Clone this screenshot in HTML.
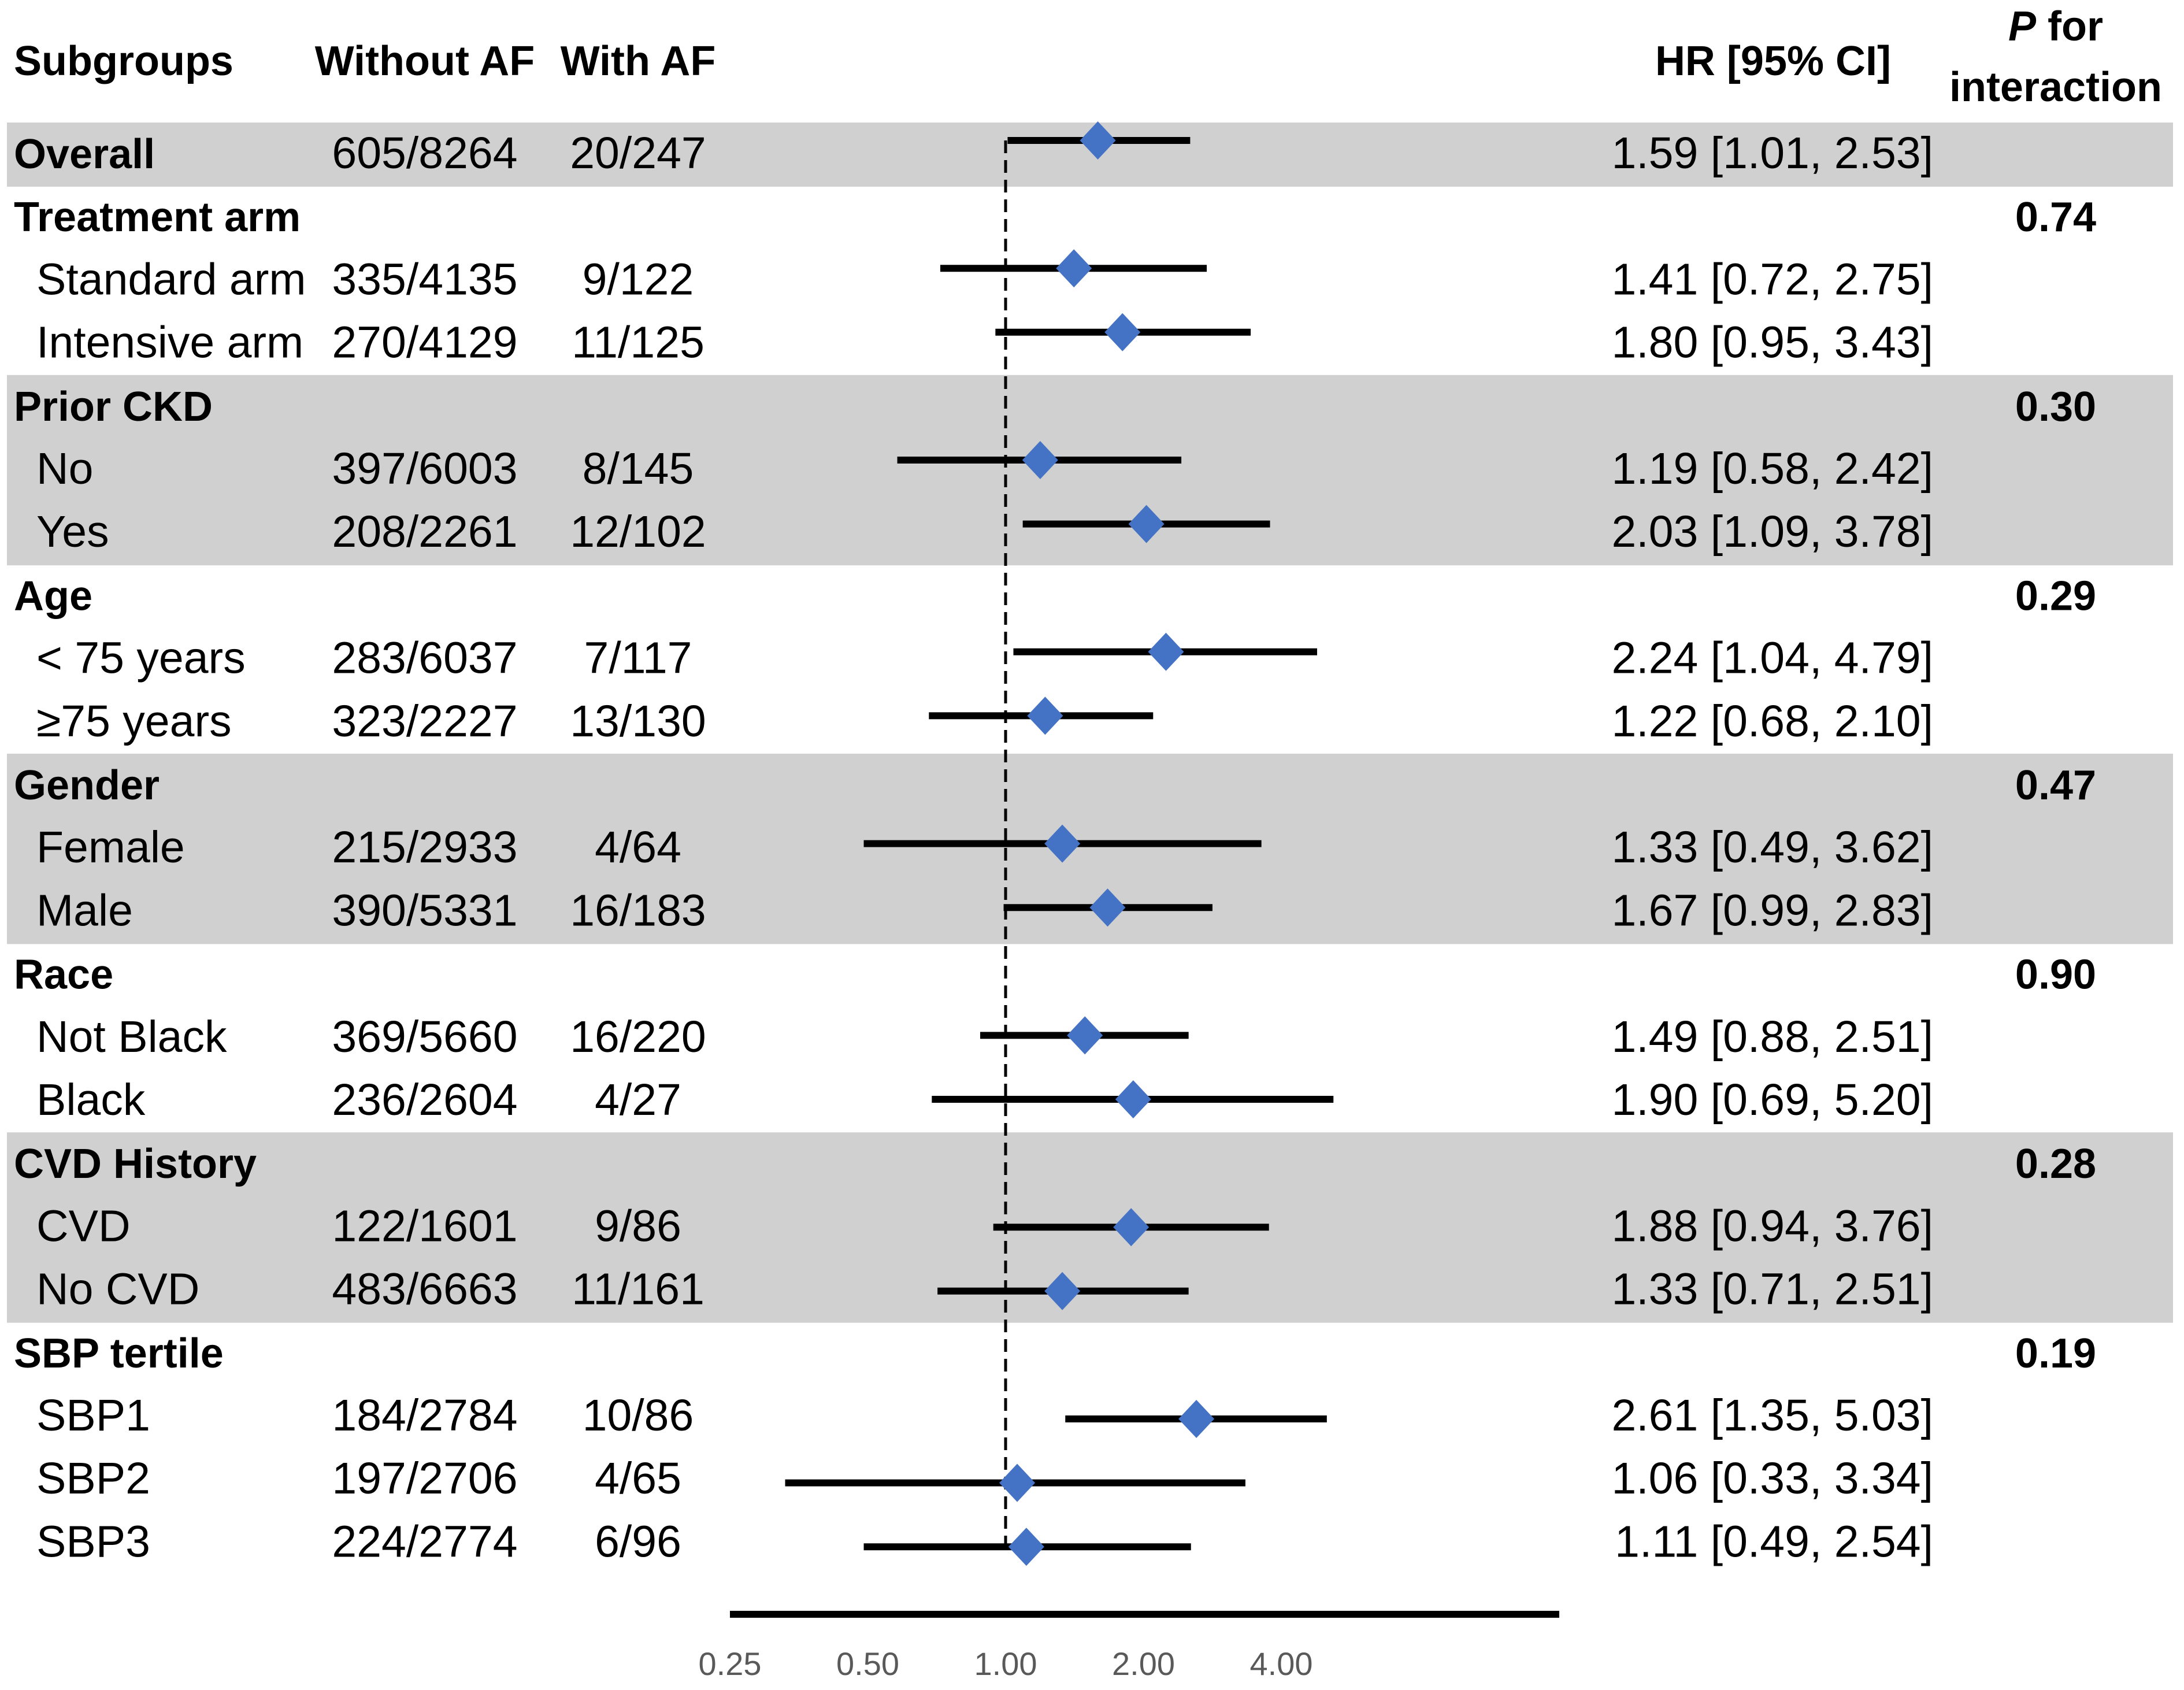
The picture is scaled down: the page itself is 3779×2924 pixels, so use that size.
<!DOCTYPE html>
<html><head><meta charset="utf-8"><style>
html,body{margin:0;padding:0;background:#fff}
svg{display:block}
text{font-family:"Liberation Sans",sans-serif;fill:#000}
</style></head><body>
<svg id="chart" width="3779" height="2924" viewBox="0 0 3779 2924" xmlns="http://www.w3.org/2000/svg">
<g id="bands"></g>
<g id="header">
<text x="24" y="130" font-size="72" font-weight="bold">Subgroups</text>
<text x="735" y="130" font-size="72" font-weight="bold" text-anchor="middle">Without AF</text>
<text x="1104" y="130" font-size="72" font-weight="bold" text-anchor="middle">With AF</text>
<text x="3272" y="130" font-size="72" font-weight="bold" text-anchor="end">HR [95% CI]</text>
<text x="3557" y="70" font-size="72" font-weight="bold" text-anchor="middle"><tspan font-style="italic">P</tspan>  for</text>
<text x="3557" y="175" font-size="72" font-weight="bold" text-anchor="middle">interaction</text>
</g>
<g id="rows"></g>
<g id="marks"></g>
<g id="axis"></g>
</svg>
<script>
const labels=["Overall","Treatment arm","Standard arm","Intensive arm","Prior CKD","No","Yes","Age","< 75 years","\u226575 years","Gender","Female","Male","Race","Not Black","Black","CVD History","CVD","No CVD","SBP tertile","SBP1","SBP2","SBP3"];
const isGroup=[1,1,0,0,1,0,0,1,0,0,1,0,0,1,0,0,1,0,0,1,0,0,0];
const withoutAF=["605/8264","","335/4135","270/4129","","397/6003","208/2261","","283/6037","323/2227","","215/2933","390/5331","","369/5660","236/2604","","122/1601","483/6663","","184/2784","197/2706","224/2774"];
const withAF=["20/247","","9/122","11/125","","8/145","12/102","","7/117","13/130","","4/64","16/183","","16/220","4/27","","9/86","11/161","","10/86","4/65","6/96"];
const hr=[1.59,null,1.41,1.80,null,1.19,2.03,null,2.24,1.22,null,1.33,1.67,null,1.49,1.90,null,1.88,1.33,null,2.61,1.06,1.11];
const lo=[1.01,null,0.72,0.95,null,0.58,1.09,null,1.04,0.68,null,0.49,0.99,null,0.88,0.69,null,0.94,0.71,null,1.35,0.33,0.49];
const hi=[2.53,null,2.75,3.43,null,2.42,3.78,null,4.79,2.10,null,3.62,2.83,null,2.51,5.20,null,3.76,2.51,null,5.03,3.34,2.54];
const pInt=["","0.74","","","0.30","","","0.29","","","0.47","","","0.90","","","0.28","","","0.19","","",""];
const shaded=[1,0,0,0,1,1,1,0,0,0,1,1,1,0,0,0,1,1,1,0,0,0,0];
const ticks=[0.25,0.5,1,2,4];
const tickLabels=["0.25","0.50","1.00","2.00","4.00"];

const NS="http://www.w3.org/2000/svg";
const xS=v=>1740+238.5*Math.log2(v);
const textY=i=>265+i*109.2+26;
const markY=i=>243+i*110.6;
const bandTop=i=>212+i*109.2;
const FS=77;
function mk(tag,attrs,parent){const e=document.createElementNS(NS,tag);for(const k in attrs)e.setAttribute(k,attrs[k]);parent.appendChild(e);return e;}
const bands=document.getElementById('bands'),rows=document.getElementById('rows'),marks=document.getElementById('marks'),axis=document.getElementById('axis');

for(let i=0;i<labels.length;i++){
  if(shaded[i]){
    const r=mk('rect',{x:12,y:bandTop(i),width:3748,height:111,fill:'#d0d0d0'},bands);
    
    
  }
  const g=mk('g',{},rows);
  
  
  const t=mk('text',{x:isGroup[i]?24:63,y:textY(i),'font-size':isGroup[i]?72:FS,'font-weight':isGroup[i]?'bold':'normal'},g);
  t.textContent=labels[i];
  
  
  if(withoutAF[i]){
    const a=mk('text',{x:735,y:textY(i),'font-size':FS,'text-anchor':'middle'},g);a.textContent=withoutAF[i];
    
    
    const b=mk('text',{x:1104,y:textY(i),'font-size':FS,'text-anchor':'middle'},g);b.textContent=withAF[i];
    
    
  }
  if(hr[i]!==null){
    const h=mk('text',{x:3345,y:textY(i),'font-size':FS,'text-anchor':'end'},g);
    h.textContent=hr[i].toFixed(2)+' ['+lo[i].toFixed(2)+', '+hi[i].toFixed(2)+']';
    
    
    const y=markY(i);
    const l=mk('line',{x1:xS(lo[i]),x2:xS(hi[i]),y1:y,y2:y,stroke:'#000','stroke-width':12},marks);
    
    
    const cx=xS(hr[i]);
    const d=mk('polygon',{points:`${cx},${y-33} ${cx+31},${y} ${cx},${y+33} ${cx-31},${y}`,fill:'#4472C4'},marks);
    
    
  }
  if(pInt[i]){
    const p=mk('text',{x:3557,y:textY(i),'font-size':72,'font-weight':'bold','text-anchor':'middle'},g);p.textContent=pInt[i];
    
    
  }
}
const ref=mk('line',{x1:xS(1),x2:xS(1),y1:markY(0),y2:markY(22)+10,stroke:'#000','stroke-width':5,'stroke-dasharray':'22 12'},marks);


marks.insertBefore(ref,marks.firstChild);
const ax=mk('line',{x1:1263,x2:2698,y1:2793,y2:2793,stroke:'#000','stroke-width':12},axis);


for(let k=0;k<ticks.length;k++){
  const t=mk('text',{x:xS(ticks[k]),y:2898,'font-size':56,'text-anchor':'middle',fill:'#595959'},axis);
  t.style.fill='#595959';
  t.textContent=tickLabels[k];
  
  
}
</script>
</body></html>
